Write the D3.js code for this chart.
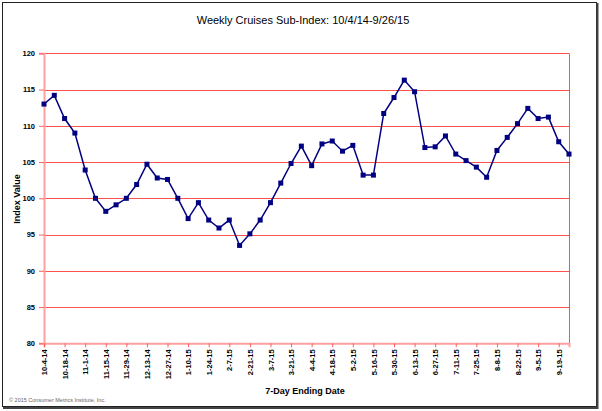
<!DOCTYPE html>
<html><head><meta charset="utf-8">
<script src="https://cdn.jsdelivr.net/npm/d3@7"></script>
<style>
html,body{margin:0;padding:0;background:#fff;}
svg{display:block;font-family:Arial,"Liberation Sans",sans-serif;}
</style></head>
<body>
<svg id="c" width="602" height="411"></svg>
<script>
const dates = ["10-4-14","10-11-14","10-18-14","10-25-14","11-1-14","11-8-14","11-15-14","11-22-14","11-29-14","12-6-14","12-13-14","12-20-14","12-27-14","1-3-15","1-10-15","1-17-15","1-24-15","1-31-15","2-7-15","2-14-15","2-21-15","2-28-15","3-7-15","3-14-15","3-21-15","3-28-15","4-4-15","4-11-15","4-18-15","4-25-15","5-2-15","5-9-15","5-16-15","5-23-15","5-30-15","6-6-15","6-13-15","6-20-15","6-27-15","7-4-15","7-11-15","7-18-15","7-25-15","8-1-15","8-8-15","8-15-15","8-22-15","8-29-15","9-5-15","9-12-15","9-19-15","9-26-15"];
const values = [113.0,114.2,111.0,109.0,103.9,100.0,98.2,99.1,100.0,101.9,
104.7,102.8,102.6,100.0,97.2,99.4,97.0,95.9,97.0,93.5,
95.1,97.0,99.4,102.1,104.8,107.2,104.5,107.5,107.9,106.5,
107.3,103.2,103.2,111.7,113.9,116.3,114.7,107.0,107.1,108.6,
106.1,105.2,104.3,102.9,106.6,108.4,110.3,112.4,111.0,111.2,
107.8,106.1];
const tickLabels = ["10-4-14","10-18-14","11-1-14","11-15-14","11-29-14","12-13-14","12-27-14","1-10-15","1-24-15","2-7-15","2-21-15","3-7-15","3-21-15","4-4-15","4-18-15","5-2-15","5-16-15","5-30-15","6-13-15","6-27-15","7-11-15","7-25-15","8-8-15","8-22-15","9-5-15","9-19-15"];
const yTicks = [80,85,90,95,100,105,110,115,120];
const title = "Weekly Cruises Sub-Index: 10/4/14-9/26/15";
const yTitle = "Index Value";
const xTitle = "7-Day Ending Date";
const credit = "\u00a9 2015 Consumer Metrics Institute, Inc.";

const svg = d3.select("#c");
const L = 44, R = 569, T = 53.3, B = 343.3;
const x = d3.scalePoint().domain(dates).range([L, R]);
const y = d3.scaleLinear().domain([80,120]).range([B, T]);

// frame
svg.append("rect").attr("x",2.5).attr("y",2.5).attr("width",594).attr("height",404)
  .attr("fill","#fff").attr("stroke","#222").attr("stroke-width",1);
svg.append("line").attr("x1",597.5).attr("x2",597.5).attr("y1",3).attr("y2",409).attr("stroke","#444").attr("stroke-width",2);
svg.append("line").attr("x1",3).attr("x2",598).attr("y1",408).attr("y2",408).attr("stroke","#444").attr("stroke-width",2);

// title
svg.append("text").attr("x",303).attr("y",24).attr("text-anchor","middle")
  .attr("font-size",11).attr("fill","#000").text(title);

// gridlines
svg.append("g").selectAll("line").data(yTicks.filter(d=>d>80)).join("line")
  .attr("x1",L).attr("x2",R).attr("y1",d=>Math.round(y(d))+0.5).attr("y2",d=>Math.round(y(d))+0.5)
  .attr("stroke","#ff5050").attr("stroke-width",1);
// right border of plot
svg.append("line").attr("x1",R+0.5).attr("x2",R+0.5).attr("y1",Math.round(y(120))+0.5).attr("y2",B)
  .attr("stroke","#ff5050").attr("stroke-width",1);

// y axis
const yAxis = d3.axisLeft(y).tickValues(yTicks).tickSize(5).tickPadding(4).tickFormat(d3.format("d"));
const gy = svg.append("g").attr("transform",`translate(${L},0)`).call(yAxis);
gy.select(".domain").attr("stroke","#ffa0a0").attr("stroke-width",2);
gy.selectAll(".tick line").attr("stroke","#ff6060");
gy.selectAll(".tick text").attr("font-size",7.5).attr("font-weight","bold").attr("fill","#000")
  .attr("font-family","Arial, 'Liberation Sans', sans-serif");

// x axis
const xAxis = d3.axisBottom(x).tickValues(tickLabels).tickSize(4).tickPadding(4);
const gx = svg.append("g").attr("transform",`translate(0,${B})`).call(xAxis);
gx.select(".domain").attr("stroke","#ffa0a0").attr("stroke-width",2);
gx.selectAll(".tick line").attr("stroke","#ff6060");
gx.selectAll(".tick text").attr("font-size",7.5).attr("font-weight","bold").attr("fill","#000")
  .attr("font-family","Arial, 'Liberation Sans', sans-serif")
  .attr("transform","rotate(-90)").attr("text-anchor","end").attr("dy","0.35em")
  .attr("x",-6).attr("y",0);

// axis titles
svg.append("text").attr("transform","translate(20,199) rotate(-90)").attr("text-anchor","middle")
  .attr("font-size",9).attr("font-weight","bold").text(yTitle);
svg.append("text").attr("x",305).attr("y",394).attr("text-anchor","middle")
  .attr("font-size",9).attr("font-weight","bold").text(xTitle);
svg.append("text").attr("x",9).attr("y",402).attr("font-size",5.5).attr("fill","#666").text(credit);

// line
const line = d3.line().x((d,i)=>x(dates[i])).y(d=>y(d));
svg.append("path").datum(values).attr("d",line).attr("fill","none")
  .attr("stroke","#000080").attr("stroke-width",1.5);
svg.append("g").selectAll("rect").data(values).join("rect")
  .attr("x",(d,i)=>x(dates[i])-2.5).attr("y",d=>y(d)-2.5).attr("width",5).attr("height",5)
  .attr("fill","#000080");
</script>
</body></html>
